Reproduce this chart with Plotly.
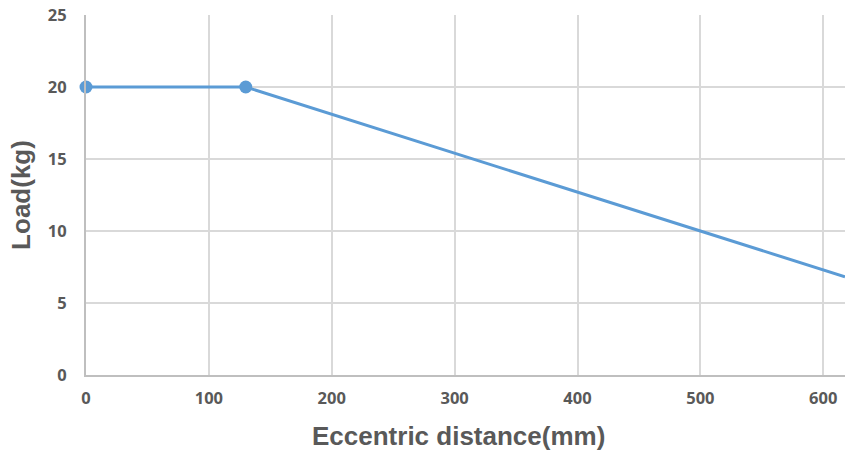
import plotly.graph_objects as go

# Load capacity versus eccentric distance
distance_mm = [0, 130, 500, 617.7]
load_kg = [20, 20, 10, 6.82]
marked_distance = [0, 130]
marked_load = [20, 20]

x_ticks = [0, 100, 200, 300, 400, 500, 600]
y_ticks = [0, 5, 10, 15, 20, 25]

blue = "#5b9bd5"
text_gray = "#595959"
grid_gray = "#d9d9d9"

fig = go.Figure()
fig.add_trace(go.Scatter(
    x=distance_mm, y=load_kg, mode="lines",
    line=dict(color=blue, width=3), cliponaxis=True, hoverinfo="skip",
))
fig.add_trace(go.Scatter(
    x=marked_distance, y=marked_load, mode="markers",
    marker=dict(color=blue, size=13), cliponaxis=False,
))

tick_font = dict(family="Open Sans", size=16.5, color=text_gray)
title_font = dict(family="Liberation Sans", size=26, color=text_gray)

fig.update_layout(
    width=845, height=452,
    margin=dict(l=86, r=0, t=15, b=77),
    paper_bgcolor="white", plot_bgcolor="white",
    showlegend=False,
    xaxis=dict(
        range=[0, 617.7], tickvals=x_ticks, ticktext=[f"<b>{v}</b>" for v in x_ticks],
        tickfont=tick_font, showgrid=True, gridcolor=grid_gray, gridwidth=2,
        zeroline=False, showline=True, linecolor="#bfbfbf", linewidth=2,
        ticks="", ticklabelstandoff=7,
    ),
    yaxis=dict(
        range=[0, 25], tickvals=y_ticks, ticktext=[f"<b>{v}</b>" for v in y_ticks],
        tickfont=tick_font, showgrid=True, gridcolor=grid_gray, gridwidth=2,
        zeroline=False, showline=True, linecolor="#bfbfbf", linewidth=2,
        ticks="", ticklabelstandoff=14,
        title=dict(text="<b>Load(kg)</b>", font=title_font, standoff=10),
    ),
    annotations=[dict(
        text="<b>Eccentric distance(mm)</b>", font=title_font,
        xref="paper", yref="paper", x=0.4914, y=0, yshift=-61,
        xanchor="center", yanchor="middle", showarrow=False,
    )],
)

fig.write_html("out.html")
